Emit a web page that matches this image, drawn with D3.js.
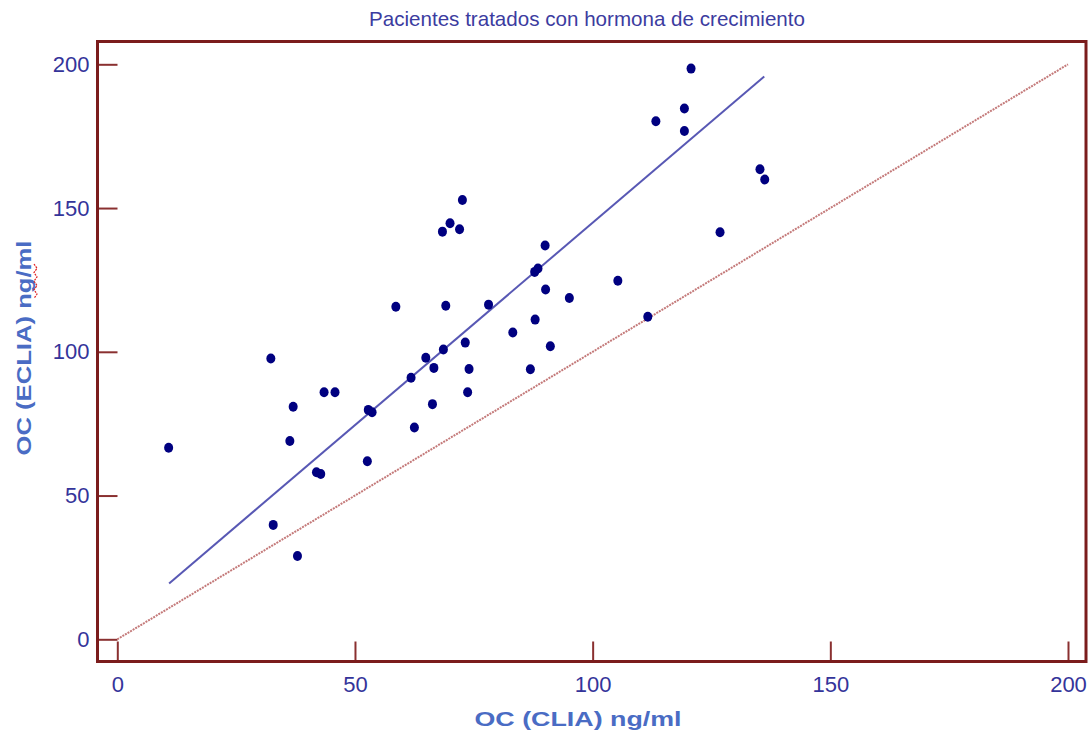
<!DOCTYPE html>
<html>
<head>
<meta charset="utf-8">
<script src="https://cdn.jsdelivr.net/npm/d3@7"></script>
<style>
  body { margin: 0; background: #fff; }
  svg text { font-family: "Liberation Sans", Arial, sans-serif; }
</style>
</head>
<body>
<svg id="chart"></svg>
<script>
// OC (CLIA) vs OC (ECLIA), pacientes tratados con hormona de crecimiento
const clia = [10.8, 32.3, 32.8, 36.3, 37.0, 37.9, 41.9, 42.8, 43.5, 45.8,
  52.6, 52.8, 53.6, 58.6, 61.8, 62.5, 64.9, 66.3, 66.6, 68.4,
  68.6, 69.1, 70.0, 72.0, 72.6, 73.2, 73.7, 74.0, 78.1, 83.2,
  86.9, 87.9, 87.8, 88.5, 90.0, 90.1, 91.1, 95.1, 105.3, 111.6,
  113.3, 119.3, 119.3, 120.7, 126.8, 135.2, 136.2];
const eclia = [66.6, 97.7, 39.8, 69.0, 80.9, 29.0, 58.1, 57.5, 85.9, 85.9,
  61.9, 79.8, 79.0, 115.7, 91.0, 73.7, 97.9, 81.8, 94.4, 141.8,
  100.8, 116.0, 144.7, 142.6, 152.8, 103.2, 85.9, 94.0, 116.4, 106.7,
  93.9, 111.2, 127.8, 129.0, 137.0, 121.7, 101.9, 118.7, 124.7, 112.2,
  180.2, 176.8, 184.6, 198.5, 141.6, 163.5, 159.9];

// regression line
const regIntercept = 4.1;
const regSlope = 1.408;
const regRange = [10.9, 136.1];

// identity line
const identity = [0, 200];

const ticks = [0, 50, 100, 150, 200];
const title = "Pacientes tratados con hormona de crecimiento";
const xLabel = "OC (CLIA) ng/ml";
const yLabel = "OC (ECLIA) ng/ml";

const width = 1090, height = 736;
const frame = { left: 97.5, top: 41.5, right: 1086, bottom: 661.5 };

const svg = d3.select("#chart").attr("width", width).attr("height", height);

const x = d3.scaleLinear().domain([0, 200]).range([117.3, 1068]);
const y = d3.scaleLinear().domain([0, 200]).range([639.3, 64.3]);

// title
svg.append("text")
  .attr("x", 587).attr("y", 26)
  .attr("text-anchor", "middle")
  .attr("font-size", 21)
  .attr("fill", "#3c3ca0")
  .attr("textLength", 436)
  .attr("lengthAdjust", "spacingAndGlyphs")
  .text(title);

// axes with inward ticks
const xAxis = svg.append("g")
  .attr("transform", `translate(0,${frame.bottom})`)
  .call(d3.axisBottom(x).tickValues(ticks).tickSize(-20).tickPadding(15));

const yAxis = svg.append("g")
  .attr("transform", `translate(${frame.left},0)`)
  .call(d3.axisLeft(y).tickValues(ticks).tickSize(-20).tickPadding(8));

[xAxis, yAxis].forEach(g => {
  g.select(".domain").remove();
  g.selectAll(".tick line").attr("stroke", "#8a3030").attr("stroke-width", 2);
  g.selectAll(".tick text")
    .attr("fill", "#34349a")
    .attr("font-size", 22)
    .attr("font-family", "Liberation Sans, Arial, sans-serif");
});

// frame
svg.append("rect")
  .attr("x", frame.left).attr("y", frame.top)
  .attr("width", frame.right - frame.left)
  .attr("height", frame.bottom - frame.top)
  .attr("fill", "none")
  .attr("stroke", "#7b1c1c")
  .attr("stroke-width", 3);

// identity line
svg.append("line")
  .attr("x1", x(identity[0])).attr("y1", y(identity[0]))
  .attr("x2", x(identity[1])).attr("y2", y(identity[1]))
  .attr("stroke", "#c47a7a")
  .attr("stroke-width", 2)
  .attr("stroke-dasharray", "2,1");

// regression line
svg.append("line")
  .attr("x1", x(regRange[0])).attr("y1", y(regIntercept + regSlope * regRange[0]))
  .attr("x2", x(regRange[1])).attr("y2", y(regIntercept + regSlope * regRange[1]))
  .attr("stroke", "#5858b4")
  .attr("stroke-width", 2);

// points
svg.append("g")
  .selectAll("ellipse")
  .data(d3.zip(clia, eclia))
  .join("ellipse")
  .attr("cx", d => x(d[0]))
  .attr("cy", d => y(d[1]))
  .attr("rx", 4.5)
  .attr("ry", 5)
  .attr("fill", "#000080");

// axis titles
svg.append("text")
  .attr("x", 578).attr("y", 726)
  .attr("text-anchor", "middle")
  .attr("font-size", 21)
  .attr("font-weight", "bold")
  .attr("fill", "#4a6cc4")
  .attr("textLength", 207)
  .attr("lengthAdjust", "spacingAndGlyphs")
  .text(xLabel);

svg.append("text")
  .attr("transform", "translate(31,348) rotate(-90)")
  .attr("text-anchor", "middle")
  .attr("font-size", 21)
  .attr("font-weight", "bold")
  .attr("fill", "#4a6cc4")
  .attr("textLength", 215)
  .attr("lengthAdjust", "spacingAndGlyphs")
  .text(yLabel);

// spell-check squiggle under "ng/ml"
const squiggle = d3.range(0, 9).map(i => [35 + (i % 2 ? 2 : -1), 264 + i * 4.3]);
svg.append("path")
  .attr("d", d3.line()(squiggle))
  .attr("fill", "none")
  .attr("stroke", "#e02020")
  .attr("stroke-width", 1.2)
  .attr("stroke-dasharray", "2,1");
</script>
</body>
</html>
